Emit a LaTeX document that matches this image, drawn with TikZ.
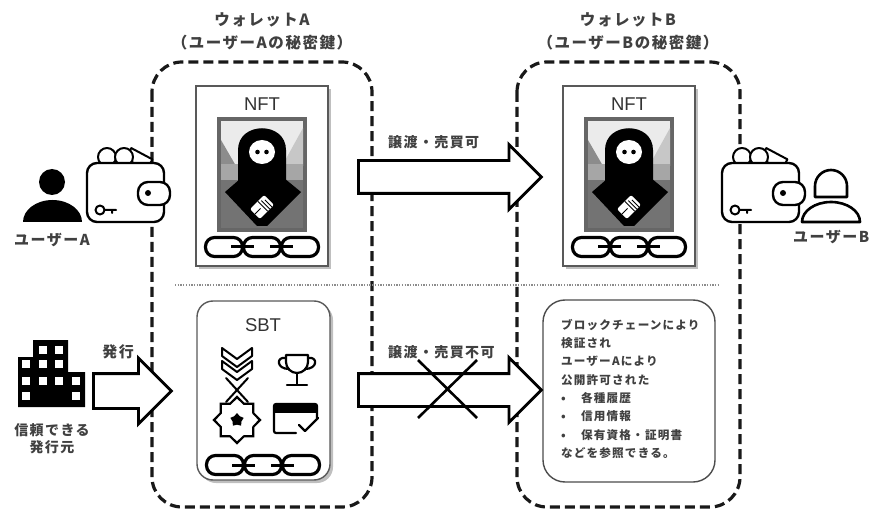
\documentclass[tikz,border=0pt]{standalone}
\usepackage{fontspec}
\setmainfont{Noto Sans CJK JP}[LetterSpace=10]
\newfontfamily\tokenfont{Liberation Sans}
\usetikzlibrary{positioning,calc,shapes.geometric,shapes.arrows}

\tikzset{
  walletbox/.style={draw=black!90, line width=3.2pt, dash pattern=on 10pt off 5pt, rounded corners=30pt},
  tokencard/.style={draw=black!65, line width=1.4pt, fill=white},
  cardshadow/.style={fill=black!25},
  bigarrow/.style={single arrow, draw=black, line width=2.8pt, fill=white,
    single arrow head extend=16pt, inner xsep=0pt, inner ysep=15pt,
    text height=0pt, text depth=0pt, anchor=west},
  icon/.style={line width=2.4pt, line join=round, line cap=round},
  lbl/.style={text=black!75, inner sep=0pt, font=\bfseries},
  title/.style={lbl, font=\bfseries\fontsize{15.5}{18}\selectfont},
  tokenname/.style={lbl, text=black!80, font=\tokenfont\fontsize{18.5}{20}\selectfont},
}

% chain of three links, centred at (#1,#2)
\newcommand\tokenchain[2]{%
  \begin{scope}[shift={(#1,#2)}]
    \foreach \lx in {-38,0,38}
      \draw[line width=3.2pt, rounded corners=9pt] (\lx-18.5,-9.5) rectangle (\lx+18.5,9.5);
    \draw[line width=3pt] (-31,0) -- (-8,0) (8,0) -- (31,0);
  \end{scope}}

% wallet with coins and key, body's top left corner at (#1,#2)
\newcommand\walletbag[2]{%
  \begin{scope}[shift={(#1,#2)}]
    \draw[icon, fill=white, line width=2pt, rotate around={-28:(52,-4)}] (40,-10) rectangle (64,2);
    \draw[icon, fill=white, line width=2pt] (20,-6) circle (9);
    \draw[icon, fill=white, line width=2pt] (37,-6) circle (9);
    \draw[icon, fill=white, rounded corners=10pt] (0,0) rectangle (77,59);
    \draw[icon, fill=white, rounded corners=10pt] (51,19) rectangle (83,42);
    \fill (61,30) circle (3);
    \draw[icon, line width=2pt] (13,47) circle (4.5) (17.5,47) -- (29,47) (25,47) -- (25,50);
  \end{scope}}

\begin{document}
\begin{tikzpicture}[x=1pt, y=-1pt]
\useasboundingbox (0,0) rectangle (869,510);

% Wallet frames
\draw[walletbox] (152,62) rectangle (372,507);
\draw[walletbox] (517,62) rectangle (740,507);
\node[title] (titleA) at (262,20) {ウォレットA};
\node[title] (ownerA) at (262,43) {（ユーザーAの秘密鍵）};
\node[title] (titleB) at (628,20) {ウォレットB};
\node[title] (ownerB) at (628,43) {（ユーザーBの秘密鍵）};

% separator between NFT and SBT rows
\draw[black!45, line width=1.3pt, dash pattern=on 1.3pt off 1.4pt] (175,285) -- (718,285);

% NFT cards
\foreach \cx/\nm in {262/A,629/B}{
  \begin{scope}[shift={(\cx,0)}]
    \fill[cardshadow] (-63,89) rectangle (69,269);
    \node[tokencard, minimum width=132pt, minimum height=180pt] (nft\nm) at (0,176) {};
    \node[tokenname] (nftname\nm) at (0,104) {NFT};
    % portrait
    \fill[black!60] (-45,117) rectangle (45,232);
    \fill[black!8] (-41,121) rectangle (41,228);
    \fill[black!45] (-41,140) -- (-26,166) -- (-41,166) -- cycle;
    \fill[black!22] (41,128) -- (41,166) -- (20,166) -- cycle;
    \fill[black!35] (-41,164) rectangle (41,180);
    \fill[black!55] (-41,180) rectangle (41,228);
    \fill[black] (-24,186) -- (-24,150) .. controls (-24,121) and (24,121) .. (24,150) -- (24,186) -- cycle;
    \fill[black] (0,160) -- (39,192) -- (5,226) -- (-5,226) -- (-37,192) -- cycle;
    \fill[white] (0,152) ellipse [x radius=13, y radius=12];
    \fill[black] (-4.5,152) circle (2.3) (4.5,152) circle (2.3);
    \begin{scope}[shift={(0,207)}, rotate=45]
      \fill[white, rounded corners=2pt] (-10,-7) rectangle (10,7);
      \draw[line width=0.9pt] (-10,0) -- (-2,0) (1,-7) -- (1,7) (4,-5) -- (4,7) (7,-3) -- (7,7);
    \end{scope}
    \tokenchain{0}{247}
  \end{scope}
}

% SBT card
\fill[cardshadow, rounded corners=16pt] (200,304) rectangle (333,483);
\node[tokencard, rounded corners=16pt, minimum width=133pt, minimum height=179pt] (sbt) at (263.5,390.5) {};
\node[tokenname] (sbtname) at (263,325) {SBT};
% medal with chevrons
\draw[icon, line width=2pt] (222,348) -- (237,359) -- (252,348) -- (252,356) -- (237,367) -- (222,356) -- cycle;
\draw[icon, line width=2pt] (222,361) -- (237,372) -- (252,361) -- (252,369) -- (237,380) -- (222,369) -- cycle;
\draw[icon, line width=2pt] (226,378) -- (248,402) (248,378) -- (226,402);
\node[star, star points=8, star point ratio=1.3, draw, fill=white, line width=2.2pt, minimum size=46pt, inner sep=0pt] (badge) at (237,420) {};
\node[star, star points=5, fill=black, minimum size=14pt, inner sep=0pt] (badgestar) at (badge.center) {};
% trophy
\draw[icon, line width=2.2pt] (286,355) -- (308,355) -- (308,362) arc[start angle=0, end angle=180, radius=11] -- cycle;
\draw[icon, line width=2.2pt] (286,358) .. controls (276,356) and (276,369) .. (289,369)
  (308,358) .. controls (318,356) and (318,369) .. (305,369);
\draw[icon, line width=2.2pt] (297,373) -- (297,384) (287,385) -- (307,385);
% certificate card
\draw[icon, line width=2.2pt, rounded corners=2pt] (296,433) -- (274,433) -- (274,404) -- (317,404) -- (317,418);
\fill (274,404) rectangle (317,413);
\draw[icon, line width=2.2pt] (299,425) -- (305,431) -- (318,418);
\tokenchain{263}{465}

% SBT info box
\draw[black!70, line width=1.4pt, rounded corners=22pt] (543,300) rectangle (715,482);
\node[lbl, anchor=north west, align=left, font=\bfseries\fontsize{11.6}{18.3}\selectfont] (sbtinfo) at (561,319)
  {ブロックチェーンにより\\検証され\\ユーザーAにより\\公開許可された\\
   \makebox[20pt][l]{•}各種履歴\\\makebox[20pt][l]{•}信用情報\\
   \makebox[20pt][l]{•}保有資格・証明書\\などを参照できる。};

% transfer arrows
\node[bigarrow, minimum height=183pt] (nftmove) at (357,177) {};
\node[lbl, font=\bfseries\fontsize{14}{16}\selectfont, anchor=west] (nftmovetext) at (388,142) {譲渡・売買可};
\node[bigarrow, minimum height=183pt] (sbtmove) at (357,390) {};
\node[lbl, font=\bfseries\fontsize{14}{16}\selectfont, anchor=west] (sbtmovetext) at (388,352) {譲渡・売買不可};
\draw[line width=2.6pt] (418,360) -- (477,418) (477,360) -- (418,418);

% issuer
\fill[black] (33,340) rectangle (68,407) (18,357) rectangle (68,407) (68,372) rectangle (85,407);
\foreach \wx/\wy in {43/350,59/350,26/364,43/364,59/364,26/381,43/381,59/381,76/381,26/396,76/396}
  \fill[white] (\wx-4,\wy-4) rectangle ++(8,8);
\node[lbl, font=\bfseries\fontsize{14}{17}\selectfont, align=center] (issuer) at (52,439) {信頼できる\\発行元};
\node[bigarrow, minimum height=78pt, inner ysep=16pt, single arrow head extend=15.5pt] (issue) at (92,391) {};
\node[lbl, font=\bfseries\fontsize{15}{17}\selectfont] (issuetext) at (118,352) {発行};

% users and their wallets
\walletbag{87}{163}
\walletbag{722}{163}
\fill[black] (52,182) circle (13);
\fill[black] (23,222) arc[start angle=180, end angle=360, x radius=29.5, y radius=22] -- cycle;
\node[lbl, font=\bfseries\fontsize{15}{17}\selectfont] (userA) at (52,240) {ユーザーA};
\draw[icon, line width=2.6pt] (815,197) -- (815,186) arc[start angle=180, end angle=360, radius=16] -- (847,197) -- cycle;
\draw[icon, line width=2.6pt] (802,222) arc[start angle=180, end angle=360, x radius=29, y radius=20] -- cycle;
\node[lbl, font=\bfseries\fontsize{15}{17}\selectfont, anchor=west] (userB) at (793,237) {ユーザーB};
\end{tikzpicture}
\end{document}
